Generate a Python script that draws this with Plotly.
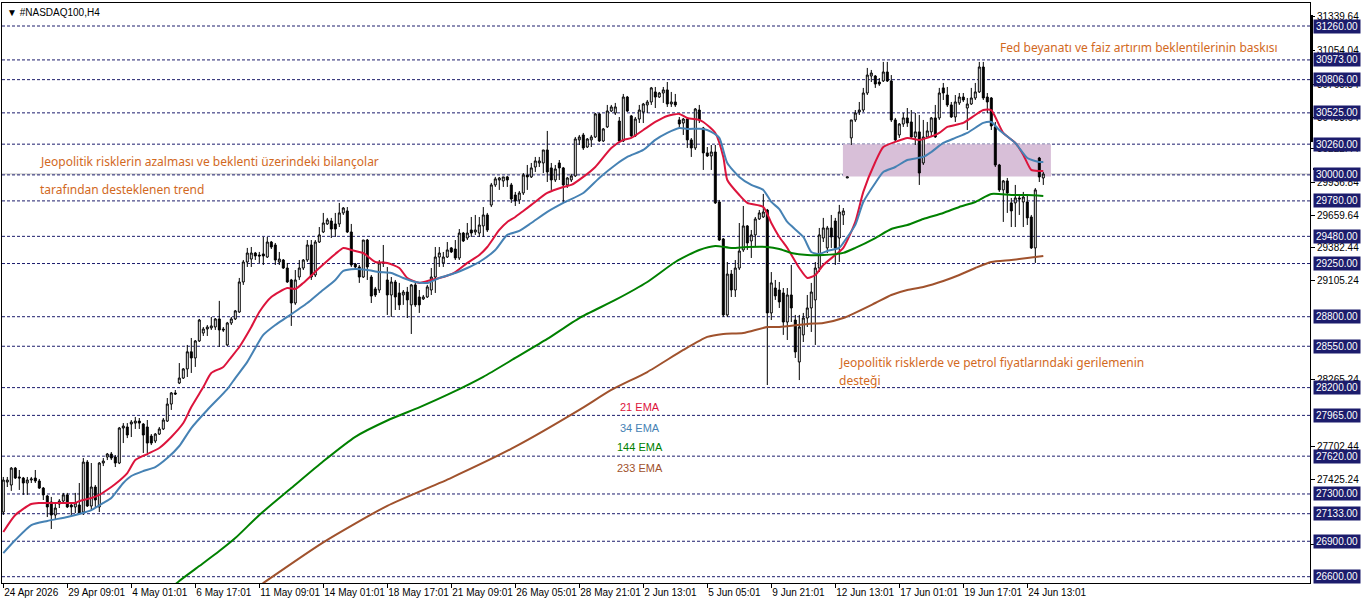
import plotly.graph_objects as go

# ---------------- data ----------------
bars = list(range(261))

open_ = [27147,27401,27376,27519,27444,27435,27393,27418,27435,27410,
27350,27283,27232,27122,27215,27240,27292,27207,27190,27207,
27147,27570,27198,27359,27190,27562,27613,27638,27613,27562,
27858,27867,27892,27900,27917,27892,27867,27790,27748,27807,
27850,27917,28061,28155,28239,28281,28358,28503,28451,28595,
28662,28696,28705,28713,28781,28696,28561,28747,28781,28840,
29094,29263,29288,29339,29322,29331,29305,29432,29407,29263,
29280,29212,29111,28916,29136,29212,29280,29407,29153,29432,
29517,29585,29610,29585,29585,29678,29695,29517,29246,29221,
29136,29449,29136,29035,29026,29263,29111,28984,29094,29001,
28984,29009,28900,29069,28967,28950,28967,29026,29136,29305,
29255,29305,29382,29373,29297,29508,29466,29534,29517,29508,
29568,29661,29745,29915,29957,29949,29983,29915,29830,29788,
29847,29999,29983,30067,30101,30101,30211,30059,29957,30101,
30059,29915,29957,29991,30296,30338,30236,30296,30321,30516,
30287,30406,30541,30524,30456,30287,30659,30499,30330,30473,
30532,30592,30617,30702,30659,30693,30719,30600,30617,30465,
30439,30473,30296,30228,30549,30397,30186,30160,30194,29771,
29458,28815,29161,29026,29212,29365,29568,29441,29492,29627,
29644,29703,28832,29043,29026,29001,28755,28984,28772,28417,
28646,28789,28874,28942,29212,29466,29382,29551,29610,29466,
29661,29974,30313,30465,30532,30549,30693,30837,30837,30786,
30795,30871,30795,30465,30338,30431,30482,30448,30321,30364,
30101,30321,30364,30482,30482,30736,30676,30592,30490,30609,
30659,30566,30600,30651,30702,30913,30659,30651,30406,30084,
29873,29949,29763,29763,29805,29771,29771,29644,29382,30143,
29974]

high = [27444,27444,27528,27528,27503,27444,27444,27444,27503,27427,
27359,27292,27275,27215,27257,27309,27309,27232,27309,27393,
27604,27587,27562,27376,27570,27604,27647,27655,27630,27867,
27900,27900,27926,27952,27943,27900,27926,27807,27816,27867,
27943,28112,28163,28180,28408,28366,28561,28620,28603,28781,
28713,28730,28798,28789,28934,28713,28756,28798,28857,29128,
29280,29382,29390,29348,29348,29475,29475,29441,29424,29348,
29288,29255,29120,29195,29280,29288,29449,29449,29449,29559,
29678,29636,29636,29678,29763,29728,29728,29585,29255,29238,
29449,29458,29153,29052,29280,29407,29221,29136,29111,29086,
29026,29052,29077,29086,29026,28984,29069,29212,29390,29390,
29348,29432,29390,29449,29542,29517,29593,29644,29661,29644,
29728,29678,29932,29983,29983,29983,29991,29932,29856,29864,
30016,30084,30101,30152,30152,30211,30372,30101,30084,30126,
30067,29983,30008,30321,30338,30355,30312,30338,30524,30524,
30397,30592,30592,30609,30490,30685,30668,30507,30490,30592,
30609,30634,30744,30744,30702,30744,30786,30702,30685,30490,
30482,30482,30312,30566,30592,30406,30236,30253,30253,29788,
29466,29263,29195,29280,29593,29737,29576,29534,29644,29703,
29839,29712,29178,29111,29094,29043,29043,29238,28815,28815,
28832,28984,29086,29263,29551,29636,29568,29661,29636,29746,
29720,29983,30465,30549,30617,30736,30905,30888,30845,30820,
30956,30956,30845,30482,30439,30524,30566,30549,30524,30507,
30465,30448,30490,30592,30736,30778,30744,30617,30676,30693,
30693,30651,30736,30778,30956,30956,30693,30659,30448,30093,
29957,29974,29805,29915,29830,29856,29830,29661,29889,30152,
30025]

low = [27122,27359,27326,27427,27334,27292,27292,27393,27393,27342,
27249,27105,27004,27080,27181,27232,27181,27114,27139,27122,
27122,27190,27164,27190,27147,27536,27587,27587,27528,27553,
27731,27773,27782,27850,27850,27647,27647,27714,27731,27799,
27841,27909,28011,28138,28230,28273,28290,28324,28375,28586,
28637,28637,28688,28688,28544,28671,28552,28730,28772,28832,
29069,29221,29221,29280,29255,29238,29297,29373,29238,29238,
29204,29086,28722,28900,29111,29195,29263,29111,29136,29424,
29508,29576,29466,29475,29559,29661,29508,29221,29212,29086,
29128,29111,28916,28967,29001,29221,28815,28798,28857,28857,
28900,28789,28654,28883,28832,28942,28959,28984,29001,29221,
29221,29297,29339,29280,29280,29432,29449,29475,29492,29475,
29475,29517,29728,29898,29873,29898,29898,29763,29737,29754,
29830,29873,29974,30025,30067,30016,29940,29873,29940,29957,
29763,29890,29940,29983,30253,30211,30228,30236,30312,30279,
30279,30397,30532,30507,30279,30279,30532,30321,30321,30439,
30439,30524,30592,30566,30651,30609,30575,30575,30575,30397,
30338,30228,30152,30211,30439,30042,30152,30042,29754,29441,
28798,28798,28967,28967,29195,29348,29365,29297,29390,29619,
29636,28222,28772,28942,28874,28646,28603,28755,28451,28264,
28586,28713,28671,28561,29178,29432,29339,29382,29238,29263,
29576,29974,30253,30448,30507,30532,30676,30786,30736,30753,
30786,30786,30448,30279,30313,30406,30406,30313,30253,29915,
30084,30313,30321,30313,30465,30634,30575,30482,30448,30592,
30617,30380,30592,30634,30693,30634,30524,30380,30067,29856,
29602,29678,29559,29559,29661,29559,29576,29373,29255,29940,
29915]

close = [27418,27418,27519,27435,27435,27393,27418,27427,27410,27350,
27292,27190,27122,27181,27240,27292,27190,27190,27224,27139,
27570,27198,27359,27249,27562,27579,27638,27604,27562,27858,
27875,27799,27909,27917,27900,27799,27731,27731,27807,27850,
27926,28061,28155,28146,28281,28358,28503,28451,28595,28772,
28696,28713,28722,28781,28688,28688,28747,28781,28849,29094,
29263,29339,29339,29314,29314,29314,29432,29390,29280,29288,
29212,29094,28916,29111,29212,29280,29407,29136,29432,29492,
29593,29619,29542,29542,29678,29720,29517,29238,29221,29136,
29449,29221,28975,28984,29255,29255,28984,29094,28967,28900,
29009,28942,29069,28900,28900,28967,29052,29136,29305,29339,
29305,29365,29348,29297,29508,29441,29508,29508,29534,29576,
29661,29534,29915,29966,29974,29983,29957,29796,29779,29847,
29999,29983,30059,30118,30118,30211,30025,29957,30050,30059,
29915,29974,29991,30304,30321,30228,30304,30321,30516,30287,
30389,30541,30575,30575,30287,30659,30541,30330,30473,30549,
30600,30617,30736,30659,30693,30719,30600,30617,30592,30431,
30473,30296,30228,30558,30465,30186,30160,30194,29763,29449,
28815,29161,29026,29212,29356,29568,29424,29492,29627,29678,
29686,28832,29086,28976,28925,28755,28984,28874,28502,28713,
28789,28874,29009,29212,29492,29551,29551,29475,29382,29686,
29695,29983,30465,30524,30549,30693,30845,30862,30769,30769,
30871,30795,30465,30296,30431,30482,30439,30321,30364,30016,
30321,30372,30482,30321,30693,30693,30592,30490,30617,30659,
30634,30600,30651,30702,30913,30651,30617,30414,30084,29873,
29949,29847,29695,29805,29796,29813,29636,29382,29873,29983,
30008]

ema21_bars = [0,3,7,9,12,15,18,19,22,24,27,28,31,33,36,39,42,45,47,50,
52,55,57,59,62,64,67,71,73,75,79,83,85,87,89,90,93,96,99,101,
104,107,110,113,116,119,121,124,126,128,130,132,136,140,142,145,148,152,155,157,
160,163,166,169,171,174,175,178,180,181,184,186,190,192,194,196,199,201,203,205,
208,210,213,215,218,220,223,226,229,231,234,236,240,243,245,247,248,250,253,255,
257,259,260]
ema21 = [26978,27122,27215,27224,27224,27224,27224,27240,27266,27292,27359,27384,27477,27587,27638,27689,27782,27900,28036,28205,
28324,28375,28459,28544,28713,28840,28967,29043,29035,29086,29212,29331,29382,29365,29348,29339,29263,29255,29212,29128,
29086,29111,29136,29178,29255,29322,29390,29534,29602,29644,29695,29746,29847,29898,29915,29983,30067,30228,30296,30313,
30380,30448,30499,30516,30482,30465,30448,30355,30152,29957,29830,29763,29729,29593,29475,29382,29212,29128,29153,29238,
29322,29382,29602,29856,30109,30236,30279,30313,30296,30313,30355,30406,30440,30507,30549,30549,30490,30355,30271,30169,
30042,30033,30033]

ema34_bars = [0,3,7,11,16,19,22,25,27,30,32,35,38,41,44,47,51,56,58,61,
64,65,68,71,76,79,83,85,88,91,94,97,100,103,106,109,113,116,119,123,
126,129,132,136,140,145,149,153,156,160,163,166,169,171,175,177,179,181,184,187,
190,192,194,196,200,202,204,206,209,210,213,215,218,220,223,226,230,232,235,238,
241,245,247,249,253,256,259,260]
ema34 = [26800,26910,27037,27072,27105,27131,27164,27224,27266,27393,27452,27494,27528,27604,27706,27858,28011,28188,28281,28418,
28595,28646,28730,28798,28916,29001,29111,29187,29204,29195,29178,29170,29128,29094,29086,29128,29170,29212,29263,29365,
29492,29526,29593,29687,29763,29847,29974,30084,30152,30211,30296,30355,30397,30389,30389,30364,30313,30101,29983,29915,
29873,29771,29711,29602,29475,29348,29331,29356,29382,29425,29577,29771,29932,30025,30067,30126,30152,30194,30270,30313,
30355,30440,30448,30380,30270,30143,30109,30109]

ema144_bars = [40,44,49,54,58,64,72,80,88,96,104,112,120,128,136,144,153,161,168,174,
178,182,186,191,194,197,201,205,210,213,218,222,226,230,235,239,243,247,252,256,260]
ema144 = [26445,26564,26690,26817,26927,27122,27350,27577,27784,27922,28033,28155,28291,28451,28612,28789,28942,29094,29263,29365,
29399,29382,29390,29390,29373,29340,29322,29322,29340,29382,29466,29542,29576,29627,29678,29729,29771,29839,29830,29830,29822]

ema233_bars = [60,65,80,96,112,128,144,152,161,170,176,180,185,191,194,201,205,210,218,222,
226,230,235,239,243,247,252,256,260]
ema233 = [26428,26547,26891,27200,27437,27700,28011,28180,28332,28519,28629,28654,28663,28713,28713,28739,28747,28789,28916,28984,
29026,29052,29102,29153,29212,29263,29280,29297,29314]

time_label_bars = [0,16,32,48,64,80,96,112,128,144,160,176,192,208,224,240,256]
time_labels = ["24 Apr 2026","29 Apr 09:01","4 May 01:01","6 May 17:01","11 May 09:01",
               "14 May 01:01","18 May 17:01","21 May 09:01","26 May 05:01","28 May 21:01",
               "2 Jun 13:01","5 Jun 05:01","9 Jun 21:01","12 Jun 13:01","17 Jun 01:01",
               "19 Jun 17:01","24 Jun 13:01"]

level_prices = [31260,30973,30806,30525,30260,30000,29780,29480,29250,28800,
                28550,28200,27965,27620,27300,27133,26900,26600]
scale_prices = [31339.64,31054.04,30768.84,30483.64,30222.44,29936.84,29659.64,
                29382.44,29105.24,28265.24,27702.44,27425.24,26870.84]

zone_bars = [209.9, 261.9]
zone_prices = [29986, 30260]

notes = [
    ("Jeopolitik risklerin azalması ve beklenti üzerindeki bilançolar", 8.7, 30110),
    ("tarafından desteklenen trend", 8.7, 29873),
    ("Fed beyanatı ve faiz artırım beklentilerinin baskısı", 248.7, 31074),
    ("Jeopolitik risklerde ve petrol fiyatlarındaki gerilemenin", 208.5, 28410),
    ("desteği", 208.5, 28258),
]
ema_names = ["21 EMA", "34 EMA", "144 EMA", "233 EMA"]
ema_label_prices = [28038, 27860, 27699, 27522]

# ---------------- styling ----------------
NAVY = "#1c1c6c"
TXT = "#D2691E"
EMA_COLORS = ["#DC143C", "#4682B4", "#008000", "#A0522D"]
AXFONT = dict(family="Liberation Sans, Arial, sans-serif", size=10, color="black")

fig = go.Figure()
fig.add_trace(go.Candlestick(
    x=bars, open=open_, high=high, low=low, close=close,
    increasing=dict(line=dict(color="black", width=1), fillcolor="white"),
    decreasing=dict(line=dict(color="black", width=1), fillcolor="black"),
    whiskerwidth=0, showlegend=False, hoverinfo="skip"))

for xs, ys, col in [(ema21_bars, ema21, EMA_COLORS[0]), (ema34_bars, ema34, EMA_COLORS[1]),
                    (ema144_bars, ema144, EMA_COLORS[2]), (ema233_bars, ema233, EMA_COLORS[3])]:
    fig.add_trace(go.Scatter(x=xs, y=ys, mode="lines", line=dict(color=col, width=2, shape="spline", smoothing=0.6),
                             showlegend=False, hoverinfo="skip"))

shapes = []
shapes.append(dict(type="rect", xref="x", yref="y", x0=zone_bars[0], x1=zone_bars[1],
                   y0=zone_prices[0], y1=zone_prices[1], fillcolor="#D8BFD8",
                   line=dict(width=0), layer="below"))
shapes.append(dict(type="line", xref="paper", x0=0, x1=1, yref="y", y0=close[-1], y1=close[-1],
                   line=dict(color="#C0C0C0", width=1), layer="below"))
for p in level_prices:
    shapes.append(dict(type="line", xref="paper", x0=0, x1=1, yref="y", y0=p, y1=p,
                       line=dict(color=NAVY, width=1, dash="3px,2px"), layer="below"))
# price-scale decorations
shapes.append(dict(type="rect", xref="paper", x0=1, x1=1 + 3 / 1308, yref="y", y0=30278, y1=31353,
                   fillcolor="black", line=dict(width=0), layer="above"))
shapes.append(dict(type="rect", xref="paper", x0=1 + 3 / 1308, x1=1 + 50 / 1308, yref="y",
                   y0=30041, y1=30058, fillcolor="black", line=dict(width=0), layer="above"))

annotations = []
annotations.append(dict(xref="paper", yref="paper", x=0, y=1, xanchor="left", yanchor="top",
                        xshift=3, yshift=-2, text="▼ #NASDAQ100,H4", showarrow=False,
                        font=dict(family="Liberation Sans, Arial, sans-serif", size=10, color="black")))
for txt, bx, py in notes:
    annotations.append(dict(xref="x", yref="y", x=bx, y=py, xanchor="left", yanchor="middle",
                            text=txt, showarrow=False,
                            font=dict(family="Noto Sans, sans-serif", size=12, color=TXT)))
for name, py, col in zip(ema_names, ema_label_prices, EMA_COLORS):
    annotations.append(dict(xref="x", yref="y", x=159.2, y=py, xanchor="center", yanchor="middle",
                            text=name, showarrow=False,
                            font=dict(family="Liberation Sans, Arial, sans-serif", size=11, color=col)))
for p in level_prices:
    annotations.append(dict(xref="paper", yref="y", x=1, y=p, xanchor="left", yanchor="middle",
                            xshift=3, text=f"{p:.2f}", showarrow=False, bgcolor=NAVY,
                            width=44, height=11, borderpad=1,
                            font=dict(family="Liberation Sans, Arial, sans-serif", size=10, color="white")))

fig.update_layout(
    width=1362, height=603,
    margin=dict(l=2, r=52, t=3, b=20, autoexpand=False),
    paper_bgcolor="white", plot_bgcolor="white",
    showlegend=False,
    shapes=shapes, annotations=annotations,
    xaxis=dict(range=[-0.325, 326.675], rangeslider=dict(visible=False), showgrid=False,
               zeroline=False, showline=True, mirror=True, linecolor="black", linewidth=1,
               tickmode="array", tickvals=time_label_bars, ticktext=time_labels,
               ticks="outside", ticklen=4, tickcolor="black", tickangle=0, automargin=False,
               ticklabelposition="outside right", tickfont=AXFONT),
    yaxis=dict(side="right", range=[26546.7, 31454.6], showgrid=False, zeroline=False,
               showline=True, mirror=True, linecolor="black", linewidth=1, automargin=False,
               tickmode="array", tickvals=scale_prices, ticktext=[f"{v:.2f}" for v in scale_prices],
               ticks="outside", ticklen=4, tickcolor="black", tickfont=AXFONT),
)

fig.write_html("out.html")
